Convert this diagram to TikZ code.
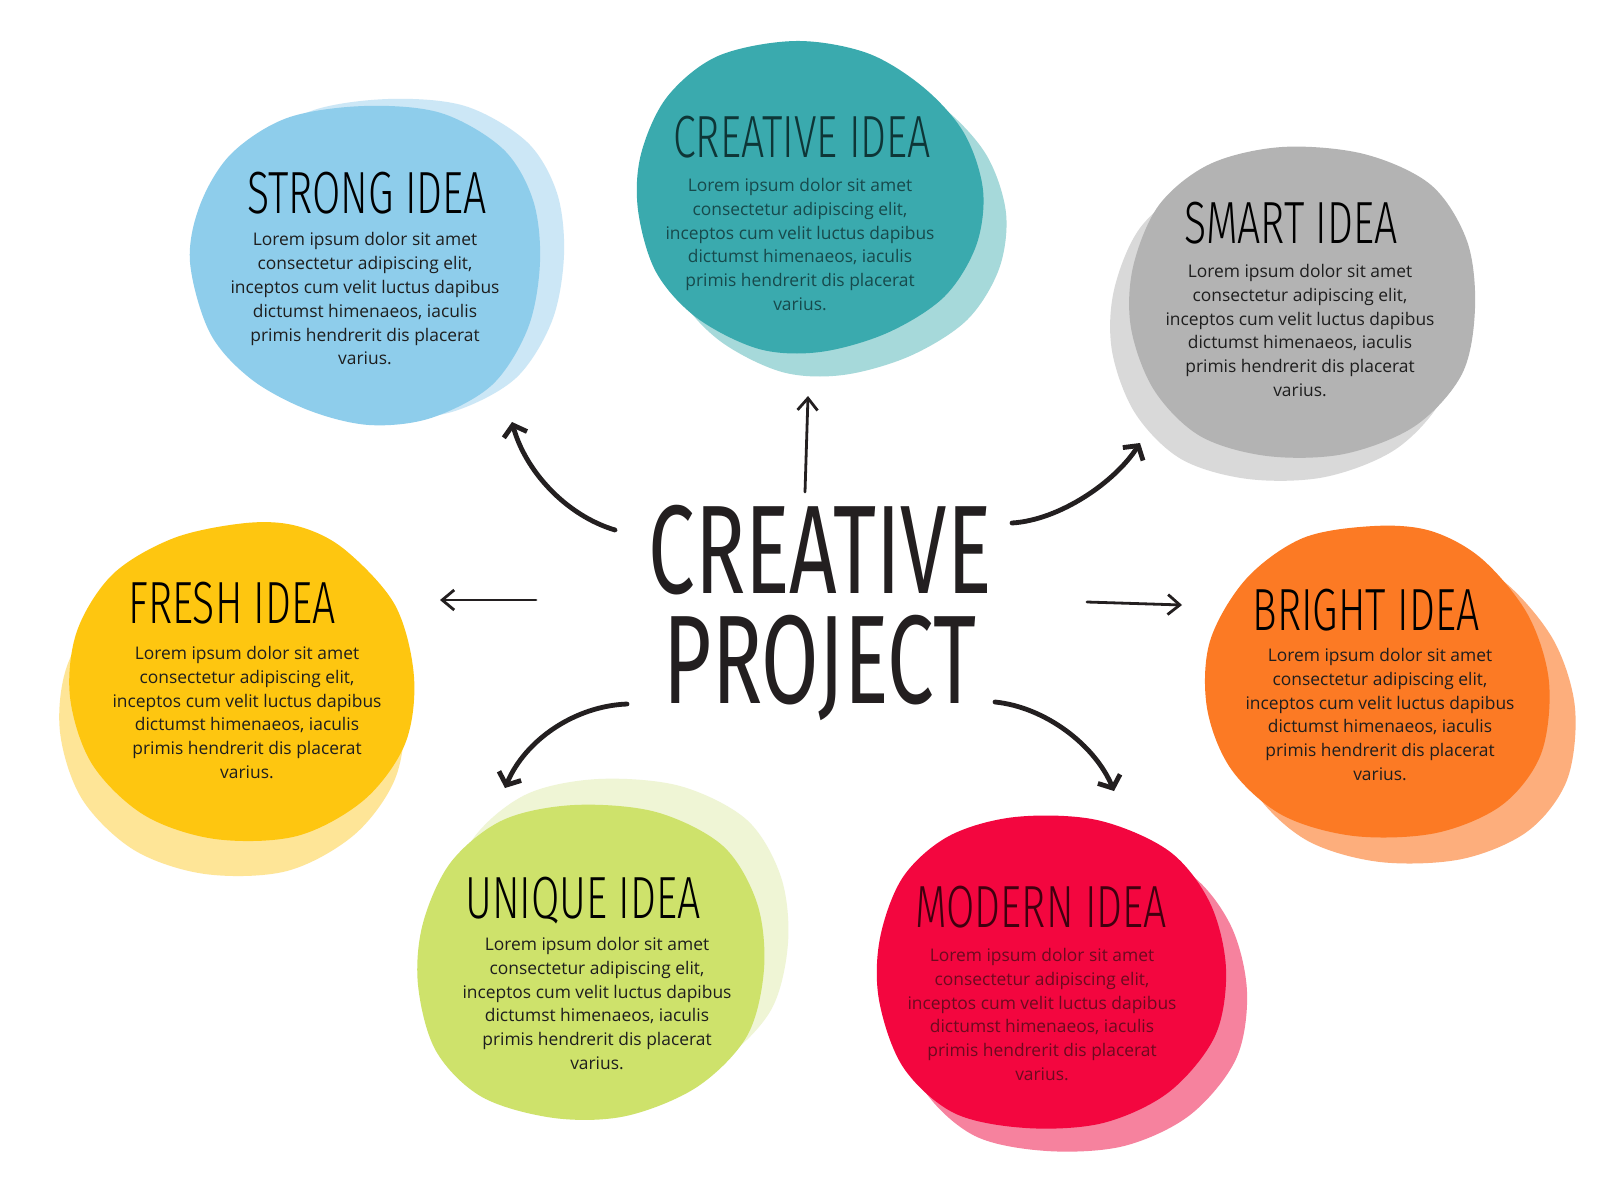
\documentclass[tikz,border=0pt]{standalone}
\usepackage{fontspec}
\usepackage{graphicx}
\setmainfont{Open Sans}
\newfontfamily\thinfont{Fira Sans Light}
\newfontfamily\midfont{Fira Sans}
\usetikzlibrary{arrows.meta}
\definecolor{ink}{HTML}{231F20}
\definecolor{blueM}{HTML}{8ECDEB}\definecolor{blueS}{HTML}{CCE7F6}
\definecolor{tealM}{HTML}{3AAAAE}\definecolor{tealS}{HTML}{A6D9DA}
\definecolor{grayM}{HTML}{B3B3B3}\definecolor{grayS}{HTML}{D9D9D9}
\definecolor{yelM}{HTML}{FEC610}\definecolor{yelS}{HTML}{FEE597}
\definecolor{oraM}{HTML}{FC7A24}\definecolor{oraS}{HTML}{FDAE7C}
\definecolor{limM}{HTML}{CEE26B}\definecolor{limS}{HTML}{EFF5D5}
\definecolor{redM}{HTML}{F3063F}\definecolor{redS}{HTML}{F6829E}
\definecolor{txtK}{HTML}{1E1E1E}
\definecolor{txtT}{HTML}{174A4C}
\definecolor{ttlT}{HTML}{0E3637}
\definecolor{txtR}{HTML}{6D0A1F}
\definecolor{ttlR}{HTML}{40000F}
\newcommand\narrowtxt[1]{\scalebox{0.69}[1]{#1}}
\newcommand\bigtxt[1]{\scalebox{0.66}[1]{#1}}
\newcommand\lorem{Lorem ipsum dolor sit amet\\consectetur adipiscing elit,\\inceptos cum velit luctus dapibus\\dictumst himenaeos, iaculis\\primis hendrerit dis placerat\\varius.}
\newcommand\blobStrong{plot[smooth cycle,tension=0.55] coordinates {(190,262) (200,205) (231,154) (287,118) (364,106) (441,113) (503,149) (533,200) (540,262) (528,328) (492,385) (431,418) (369,425) (308,410) (251,379) (210,333)}}
\newcommand\blobCreative{plot[smooth cycle,tension=0.55] coordinates {(795,41) (718,56) (667,97) (641,154) (638,210) (656,272) (697,318) (759,349) (820,352) (887,333) (944,297) (976,246) (983,190) (964,133) (923,87) (867,53)}}
\newcommand\blobSmart{plot[smooth cycle,tension=0.55] coordinates {(1282,147) (1210,164) (1159,205) (1133,267) (1131,328) (1154,390) (1200,436) (1267,456) (1344,454) (1415,426) (1462,374) (1475,308) (1467,241) (1431,185) (1364,154)}}
\newcommand\blobFresh{plot[smooth cycle,tension=0.55] coordinates {(246,523) (174,538) (113,574) (77,631) (70,697) (92,764) (144,815) (215,839) (297,836) (364,800) (405,744) (414,677) (395,605) (344,549) (297,526)}}
\newcommand\blobBright{plot[smooth cycle,tension=0.55] coordinates {(1374,526) (1303,538) (1246,579) (1210,641) (1207,708) (1231,769) (1282,815) (1354,836) (1436,833) (1502,805) (1541,754) (1549,682) (1528,615) (1482,559) (1431,531)}}
\newcommand\blobUnique{plot[smooth cycle,tension=0.55] coordinates {(574,805) (503,820) (451,862) (423,923) (418,985) (436,1051) (482,1097) (554,1118) (626,1116) (697,1087) (747,1036) (764,969) (757,903) (723,846) (656,812)}}
\newcommand\blobModern{plot[smooth cycle,tension=0.55] coordinates {(1015,817) (949,836) (903,877) (880,938) (879,1000) (903,1067) (954,1113) (1026,1128) (1103,1123) (1169,1092) (1215,1036) (1226,969) (1210,903) (1169,851) (1097,820)}}
\tikzset{
  body/.style={font=\fontsize{8.7}{11.9}\selectfont, align=center, inner sep=0pt, text=txtK},
  ttl/.style={font=\thinfont\fontsize{29.75}{30}\selectfont, inner sep=0pt, anchor=base, text=black},
  thinarrow/.style={draw=ink, line width=1.4pt, line cap=round,
    -{Straight Barb[length=6pt,width=10pt,line width=1.4pt]}},
  thickarrow/.style={draw=ink, line width=2.4pt, line cap=round,
    -{Straight Barb[length=5pt,width=12pt,line width=2.4pt]}},
}
\begin{document}
\begin{tikzpicture}[x=0.5pt,y=-0.5pt]
\useasboundingbox (0,0) rectangle (1600,1200);
\fill[white] (0,0) rectangle (1600,1200);
% shadows
\fill[blueS, shift={(24,-7)}] \blobStrong;
\fill[tealS, shift={(23,23)}] \blobCreative;
\fill[grayS, shift={(-19,23)}] \blobSmart;
\fill[yelS, shift={(-10,35)}] \blobFresh;
\fill[oraS, shift={(26,26)}] \blobBright;
\fill[limS, shift={(24,-26)}] \blobUnique;
\fill[redS, shift={(21,23)}] \blobModern;
% main blobs
\fill[blueM] \blobStrong;
\fill[tealM] \blobCreative;
\fill[grayM] \blobSmart;
\fill[yelM] \blobFresh;
\fill[oraM] \blobBright;
\fill[limM] \blobUnique;
\fill[redM] \blobModern;
% titles
\node[ttl] (tStrong) at (367,213) {\narrowtxt{STRONG IDEA}};
\node[ttl, text=ttlT] (tCreative) at (802,157) {\narrowtxt{CREATIVE IDEA}};
\node[ttl] (tSmart) at (1291,243) {\narrowtxt{SMART IDEA}};
\node[ttl] (tFresh) at (232,623) {\narrowtxt{FRESH IDEA}};
\node[ttl] (tBright) at (1366,630) {\narrowtxt{BRIGHT IDEA}};
\node[ttl] (tUnique) at (583,918) {\narrowtxt{UNIQUE IDEA}};
\node[ttl, text=ttlR] (tModern) at (1041,927) {\narrowtxt{MODERN IDEA}};
% bodies
\node[body] (bStrong) at (365,299) {\lorem};
\node[body, text=txtT] (bCreative) at (800,244.5) {\lorem};
\node[body] (bSmart) at (1300,330.5) {\lorem};
\node[body] (bFresh) at (247,712.5) {\lorem};
\node[body] (bBright) at (1380,714.5) {\lorem};
\node[body] (bUnique) at (597,1003.5) {\lorem};
\node[body, text=txtR] (bModern) at (1042,1014.5) {\lorem};
% centre title
\node[font=\midfont\fontsize{63}{55}\selectfont, align=center, inner sep=0pt, anchor=north, text=ink] (cp) at (820,505) {\bigtxt{CREATIVE}\\\bigtxt{PROJECT}};
% arrow end points
\coordinate (sUp) at (805,492);   \coordinate (eUp) at (808,396);
\coordinate (sUL) at (615,530);   \coordinate (eUL) at (512,422);
\coordinate (sUR) at (1012,523);  \coordinate (eUR) at (1140,443);
\coordinate (sL) at (536,600);    \coordinate (eL) at (440,600);
\coordinate (sR) at (1087,602);   \coordinate (eR) at (1182,605);
\coordinate (sLL) at (627,704);   \coordinate (eLL) at (505,788);
\coordinate (sLR) at (995,702);   \coordinate (eLR) at (1114,791);
% arrows
\draw[thinarrow] (sUp) -- (eUp);
\draw[thinarrow] (sL) -- (eL);
\draw[thinarrow] (sR) -- (eR);
\draw[thickarrow] (sUL) .. controls (565,515) and (525,470) .. (eUL);
\draw[thickarrow] (sUR) .. controls (1060,520) and (1115,482) .. (eUR);
\draw[thickarrow] (sLL) .. controls (575,706) and (525,740) .. (eLL);
\draw[thickarrow] (sLR) .. controls (1045,707) and (1095,745) .. (eLR);
\end{tikzpicture}
\end{document}
